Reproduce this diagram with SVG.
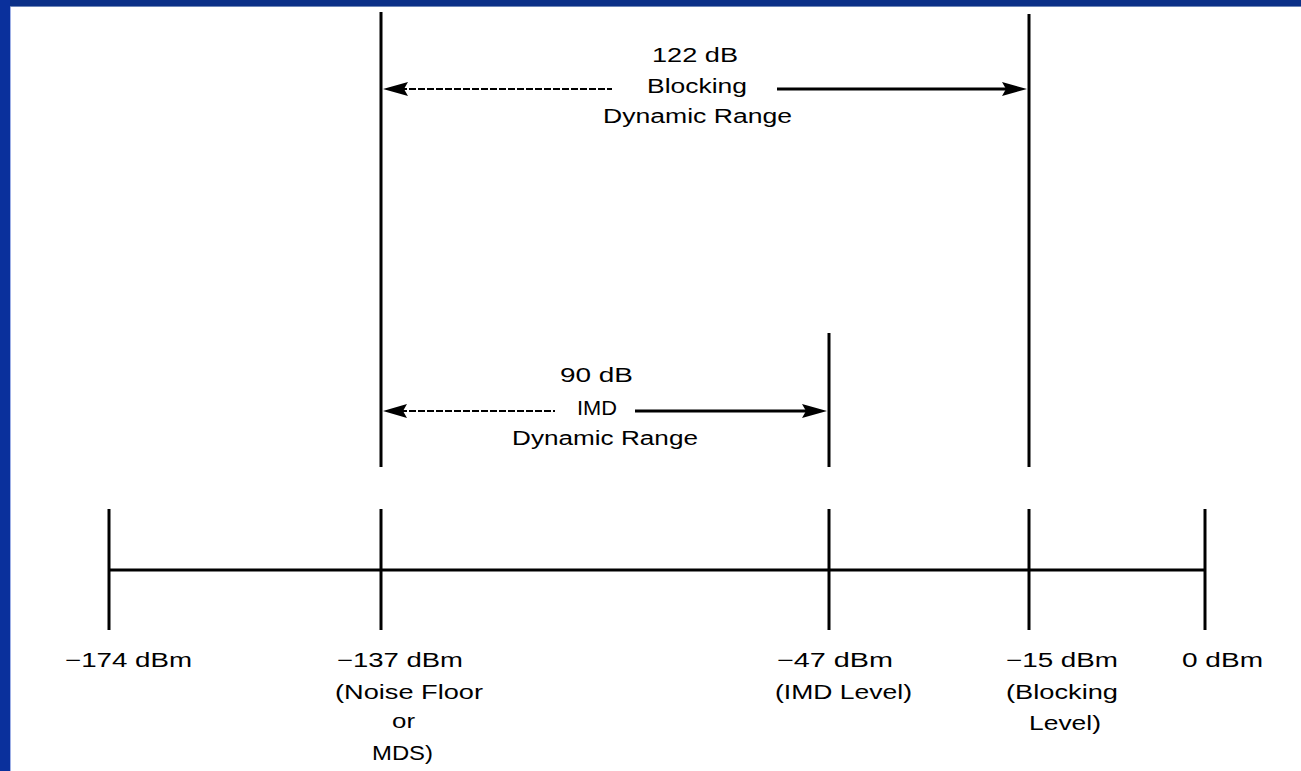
<svg xmlns="http://www.w3.org/2000/svg" width="1301" height="771" viewBox="0 0 1301 771">
<style>
.ln{stroke:#000;stroke-width:3;fill:none}
.dash{stroke:#000;stroke-width:2;stroke-dasharray:7 2;fill:none}
.t{font-family:"Liberation Sans",Arial,sans-serif;font-size:20px;fill:#000;text-anchor:start}
.ah{fill:#000}
</style>
<rect width="1301" height="771" fill="#ffffff"/>
<g id="frame">
<rect x="0" y="0" width="1301" height="6" fill="#0b3088"/>
<rect x="0" y="6" width="1301" height="1" fill="#6d86b8"/>
<rect x="0" y="0" width="10" height="771" fill="#0a309c"/>
<rect x="10" y="7" width="1" height="764" fill="#9fb0e6"/>
</g>
<g id="connectors">
<line class="ln" x1="381" y1="12" x2="381" y2="467"/>
<line class="ln" x1="1029" y1="14" x2="1029" y2="467"/>
<line class="ln" x1="829" y1="333" x2="829" y2="467"/>
<line class="ln" x1="109" y1="570" x2="1205" y2="570"/>
<line class="ln" x1="109" y1="509" x2="109" y2="630"/>
<line class="ln" x1="381" y1="509" x2="381" y2="630"/>
<line class="ln" x1="829" y1="509" x2="829" y2="630"/>
<line class="ln" x1="1029" y1="509" x2="1029" y2="630"/>
<line class="ln" x1="1205" y1="509" x2="1205" y2="630"/>
<line class="dash" x1="400" y1="89" x2="612" y2="89"/>
<line class="ln" x1="777" y1="89" x2="1006" y2="89"/>
<polygon class="ah" points="383,89 408,82 404,89 408,96"/>
<polygon class="ah" points="1027,89 1002,82 1006,89 1002,96"/>
<line class="dash" x1="400" y1="411" x2="555" y2="411"/>
<line class="ln" x1="635" y1="411" x2="806" y2="411"/>
<polygon class="ah" points="383,411 407,404 403,411 407,418"/>
<polygon class="ah" points="827,411 802,404 806,411 802,418"/>
</g>
<g id="blocking-range">
<text class="t" x="652" y="62" textLength="86" lengthAdjust="spacingAndGlyphs">122 dB</text>
<text class="t" x="647" y="93" textLength="100" lengthAdjust="spacingAndGlyphs">Blocking</text>
<text class="t" x="603" y="123" textLength="189" lengthAdjust="spacingAndGlyphs">Dynamic Range</text>
</g>
<g id="imd-range">
<text class="t" x="560" y="382" textLength="73" lengthAdjust="spacingAndGlyphs">90 dB</text>
<text class="t" x="577" y="415" textLength="40" lengthAdjust="spacingAndGlyphs">IMD</text>
<text class="t" x="512" y="445" textLength="186" lengthAdjust="spacingAndGlyphs">Dynamic Range</text>
</g>
<g id="tick-174">
<text class="t" x="65" y="667" textLength="127" lengthAdjust="spacingAndGlyphs">−174 dBm</text>
</g>
<g id="tick-137">
<text class="t" x="337" y="667" textLength="126" lengthAdjust="spacingAndGlyphs">−137 dBm</text>
<text class="t" x="335" y="699" textLength="148" lengthAdjust="spacingAndGlyphs">(Noise Floor</text>
<text class="t" x="392" y="728" textLength="23" lengthAdjust="spacingAndGlyphs">or</text>
<text class="t" x="372" y="760" textLength="61" lengthAdjust="spacingAndGlyphs">MDS)</text>
</g>
<g id="tick-47">
<text class="t" x="777" y="667" textLength="116" lengthAdjust="spacingAndGlyphs">−47 dBm</text>
<text class="t" x="775" y="699" textLength="137" lengthAdjust="spacingAndGlyphs">(IMD Level)</text>
</g>
<g id="tick-15">
<text class="t" x="1006" y="667" textLength="112" lengthAdjust="spacingAndGlyphs">−15 dBm</text>
<text class="t" x="1006" y="699" textLength="112" lengthAdjust="spacingAndGlyphs">(Blocking</text>
<text class="t" x="1029" y="730" textLength="72" lengthAdjust="spacingAndGlyphs">Level)</text>
</g>
<g id="tick-0">
<text class="t" x="1182" y="667" textLength="81" lengthAdjust="spacingAndGlyphs">0 dBm</text>
</g>
</svg>
